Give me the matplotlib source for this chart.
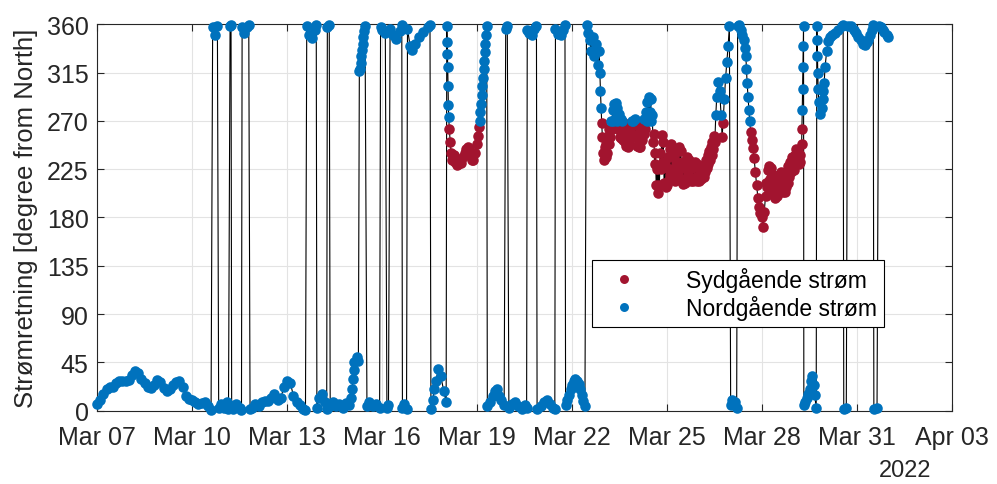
import numpy as np
import pandas as pd
import matplotlib
matplotlib.use('Agg')
import matplotlib.pyplot as plt
import matplotlib.dates as mdates

plt.rcParams.update({'font.family': ['Liberation Sans', 'DejaVu Sans']})
plt.rcParams.update({'font.size': 18})

# (days after 2022-03-07 00:00, current direction in degree from North)
mar07_10 = [(0.0, 6), (0.1, 10), (0.2, 16), (0.3, 20), (0.4, 22), (0.5, 22), (0.6, 26), (0.7, 28),
            (0.8, 28), (0.9, 28), (1.0, 29), (1.1, 33), (1.2, 37), (1.3, 35), (1.4, 30), (1.5, 26),
            (1.6, 22), (1.7, 21), (1.8, 24), (1.9, 29), (2.0, 27), (2.1, 21), (2.2, 18), (2.3, 20),
            (2.4, 24), (2.5, 27), (2.6, 28), (2.7, 22), (2.8, 14), (2.9, 11), (3.0, 10), (3.1, 8),
            (3.2, 6), (3.3, 7), (3.4, 8), (3.5, 4), (3.6, 1)]

mar10_15 = [(3.65, 357), (3.72, 350), (3.8, 358), (3.84, 3), (3.9, 6), (4.0, 3), (4.1, 8), (4.15, 2),
            (4.2, 358), (4.23, 359), (4.25, 4), (4.3, 2), (4.4, 6), (4.5, 3), (4.56, 1), (4.58, 357),
            (4.65, 352), (4.72, 357), (4.79, 359), (4.83, 2), (4.9, 3), (5.0, 6), (5.1, 4), (5.2, 8),
            (5.3, 9), (5.4, 9), (5.5, 12), (5.6, 16), (5.7, 10), (5.8, 12), (5.9, 22), (6.0, 28),
            (6.1, 26), (6.2, 14), (6.3, 8), (6.4, 5), (6.5, 2), (6.58, 1), (6.62, 358), (6.7, 350),
            (6.78, 347), (6.88, 355), (6.92, 359), (6.94, 3), (7.0, 12), (7.1, 16), (7.2, 8), (7.25, 2),
            (7.27, 357), (7.33, 359), (7.36, 4), (7.45, 8), (7.55, 4), (7.65, 6), (7.75, 3), (7.85, 7),
            (7.95, 5)]

mar15_18 = [(8.02, 12), (8.05, 20), (8.08, 30), (8.1, 38), (8.12, 45), (8.2, 50), (8.25, 46),
            (8.28, 316), (8.3, 318), (8.32, 324), (8.34, 330), (8.36, 336), (8.38, 342), (8.4, 348),
            (8.43, 354), (8.46, 358), (8.52, 4), (8.6, 8), (8.7, 4), (8.8, 6), (8.92, 3), (8.95, 357),
            (9.0, 355), (9.1, 352), (9.15, 3), (9.2, 5), (9.25, 356), (9.35, 350), (9.45, 346),
            (9.55, 354), (9.62, 359), (9.64, 3), (9.7, 6), (9.77, 2), (9.8, 356), (9.88, 340),
            (9.95, 336), (10.05, 342), (10.15, 348), (10.3, 353), (10.45, 357), (10.51, 359), (10.54, 2),
            (10.6, 10), (10.65, 20), (10.7, 28), (10.77, 39), (10.85, 32), (10.95, 18), (11.02, 8),
            (11.04, 358), (11.05, 343), (11.06, 332), (11.07, 320), (11.08, 302), (11.09, 285), (11.1, 274)]

mar18_19 = [(11.12, 262), (11.15, 250), (11.18, 240), (11.22, 234), (11.26, 238), (11.3, 232),
            (11.35, 229), (11.4, 230), (11.45, 234), (11.5, 231), (11.55, 236), (11.6, 240), (11.65, 244),
            (11.7, 246), (11.75, 244), (11.8, 238), (11.85, 234), (11.88, 234), (11.94, 240), (11.98, 248),
            (12.02, 256), (12.06, 264), (12.08, 270), (12.1, 278), (12.12, 286), (12.14, 294), (12.16, 302),
            (12.18, 310), (12.2, 318), (12.22, 326), (12.24, 334), (12.26, 342), (12.28, 350), (12.3, 358)]

mar19_22 = [(12.32, 4), (12.4, 8), (12.5, 14), (12.56, 18), (12.63, 20), (12.7, 14), (12.75, 10),
            (12.85, 5), (12.9, 356), (12.95, 358), (13.0, 3), (13.1, 6), (13.2, 8), (13.3, 4), (13.4, 2),
            (13.5, 5), (13.56, 3), (13.58, 355), (13.65, 352), (13.72, 350), (13.8, 356), (13.87, 358),
            (13.89, 2), (14.0, 4), (14.1, 8), (14.2, 10), (14.3, 6), (14.4, 3), (14.45, 2), (14.47, 356),
            (14.55, 351), (14.65, 350), (14.72, 355), (14.77, 359), (14.79, 5), (14.85, 10), (14.9, 15),
            (14.95, 20), (15.0, 24), (15.05, 28), (15.09, 30), (15.15, 28), (15.2, 25), (15.25, 20),
            (15.3, 15), (15.35, 9), (15.4, 4)]

mar22_26 = [(15.45, 359), (15.5, 352), (15.55, 345), (15.6, 335), (15.65, 348), (15.7, 330), (15.75, 342),
            (15.8, 322), (15.85, 335), (15.87, 315), (15.89, 298), (15.91, 282), (15.93, 268),
            (15.95, 255), (15.975, 240), (16.0, 234), (16.025, 246), (16.05, 236), (16.075, 248),
            (16.1, 240), (16.125, 256), (16.15, 248), (16.175, 262), (16.2, 255), (16.225, 270),
            (16.25, 262), (16.275, 280), (16.3, 270), (16.325, 286), (16.35, 272), (16.375, 287),
            (16.4, 270), (16.425, 282), (16.45, 262), (16.475, 276), (16.5, 255), (16.525, 272),
            (16.55, 254), (16.575, 270), (16.6, 252), (16.625, 268), (16.65, 250), (16.675, 262),
            (16.7, 247), (16.725, 258), (16.75, 246), (16.775, 258), (16.8, 248), (16.825, 262),
            (16.85, 254), (16.875, 270), (16.9, 255), (16.925, 270), (16.95, 256), (16.975, 272),
            (17.0, 255), (17.025, 266), (17.05, 247), (17.075, 258), (17.1, 246), (17.125, 258),
            (17.15, 246), (17.175, 260), (17.2, 252), (17.225, 268), (17.25, 258), (17.275, 272),
            (17.3, 262), (17.325, 278), (17.35, 270), (17.375, 288), (17.4, 275), (17.425, 292),
            (17.45, 278), (17.475, 290), (17.5, 270), (17.525, 275), (17.55, 250), (17.575, 258),
            (17.6, 230), (17.625, 240), (17.65, 210), (17.675, 225), (17.7, 203), (17.725, 228),
            (17.75, 210), (17.775, 240), (17.8, 225), (17.825, 257), (17.85, 232), (17.875, 250),
            (17.9, 212), (17.925, 232), (17.95, 208), (17.975, 226), (18.0, 210), (18.025, 236),
            (18.05, 215), (18.075, 244), (18.1, 220), (18.125, 248), (18.15, 225), (18.175, 244),
            (18.2, 218), (18.225, 236), (18.25, 214), (18.275, 232), (18.3, 218), (18.325, 242),
            (18.35, 222), (18.375, 246), (18.4, 226), (18.425, 242), (18.45, 216), (18.475, 232),
            (18.5, 211), (18.525, 226), (18.55, 212), (18.575, 232), (18.6, 216), (18.625, 236),
            (18.65, 220), (18.675, 234), (18.7, 218), (18.725, 230), (18.75, 214), (18.775, 226),
            (18.8, 214), (18.825, 228), (18.85, 216), (18.875, 232), (18.9, 218), (18.925, 230),
            (18.95, 214), (18.975, 226), (19.0, 214), (19.025, 224), (19.05, 216), (19.075, 226),
            (19.1, 218), (19.125, 228), (19.15, 218), (19.175, 230), (19.2, 222), (19.225, 234),
            (19.25, 226), (19.275, 238), (19.3, 230), (19.325, 242), (19.35, 234), (19.375, 246),
            (19.4, 238), (19.425, 250), (19.45, 244), (19.475, 256), (19.5, 250)]

mar26_29 = [(19.53, 275), (19.56, 292), (19.6, 306), (19.65, 298), (19.7, 275), (19.73, 255), (19.76, 268),
            (19.8, 290), (19.84, 310), (19.88, 325), (19.92, 340), (19.96, 358), (20.0, 5), (20.05, 10),
            (20.1, 6), (20.15, 8), (20.19, 3), (20.22, 358), (20.27, 359), (20.32, 355), (20.37, 350),
            (20.42, 345), (20.45, 338), (20.48, 330), (20.5, 318), (20.52, 305), (20.55, 292), (20.58, 280),
            (20.6, 270), (20.63, 260), (20.66, 252), (20.7, 245), (20.74, 235), (20.78, 222), (20.82, 210),
            (20.86, 198), (20.9, 190), (20.94, 184), (20.98, 180), (21.03, 171), (21.06, 185),
            (21.1, 200), (21.125, 212), (21.15, 208), (21.175, 224), (21.2, 214), (21.225, 228),
            (21.25, 216), (21.275, 226), (21.3, 208), (21.325, 220), (21.35, 202), (21.375, 214),
            (21.4, 198), (21.425, 212), (21.45, 200), (21.475, 214), (21.5, 204), (21.525, 220),
            (21.55, 208), (21.575, 222), (21.6, 208), (21.625, 220), (21.65, 204), (21.675, 216),
            (21.7, 204), (21.725, 218), (21.75, 208), (21.775, 222), (21.8, 212), (21.825, 228),
            (21.85, 218), (21.875, 232), (21.9, 222), (21.925, 236), (21.95, 226), (21.975, 236),
            (22.0, 224), (22.025, 238), (22.05, 232), (22.075, 244), (22.1, 236), (22.125, 242),
            (22.15, 230), (22.175, 238), (22.2, 232), (22.24, 248), (22.25, 262), (22.26, 280),
            (22.27, 300), (22.28, 320), (22.29, 340), (22.3, 358)]

mar29_apr01 = [(22.31, 5), (22.35, 8), (22.4, 12), (22.45, 16), (22.5, 20), (22.55, 28), (22.58, 32),
               (22.62, 24), (22.65, 15), (22.7, 3), (22.72, 358), (22.73, 345), (22.74, 330), (22.75, 315),
               (22.76, 300), (22.78, 288), (22.83, 276), (22.87, 282), (22.9, 290), (22.93, 298), (22.95, 305),
               (22.98, 320), (23.03, 335), (23.08, 344), (23.14, 348), (23.2, 350), (23.3, 352), (23.4, 355),
               (23.5, 358), (23.55, 359), (23.57, 2), (23.65, 3), (23.69, 358), (23.8, 358), (23.88, 355),
               (23.95, 352), (24.03, 348), (24.1, 345), (24.18, 342), (24.25, 341), (24.3, 343), (24.35, 345),
               (24.4, 350), (24.45, 355), (24.5, 359), (24.52, 2), (24.62, 3), (24.67, 358), (24.75, 357),
               (24.8, 355), (24.85, 353), (24.92, 350), (24.98, 348)]

readings = np.array(mar07_10 + mar10_15 + mar15_18 + mar18_19 + mar19_22
                    + mar22_26 + mar26_29 + mar29_apr01, dtype=float)

t0 = pd.Timestamp('2022-03-07')
tt = t0 + pd.to_timedelta(readings[:, 0], unit='D')
dd = readings[:, 1]

# south-going: direction between 90 and 270 degrees
south = (dd > 90) & (dd < 270)
north = ~south

c_red = '#A2142F'
c_blue = '#0072BD'

fig = plt.figure(figsize=(9.97, 4.85), dpi=100)
ax = fig.add_axes([0.0973, 0.151, 0.858, 0.797])

ax.plot(tt, dd, '-', color='k', lw=0.8, zorder=2)
ax.plot(tt[south], dd[south], 'o', color=c_red, ms=7.6, mew=0, zorder=3,
        clip_on=False, label='Sydgående strøm')
ax.plot(tt[north], dd[north], 'o', color=c_blue, ms=7.6, mew=0, zorder=3,
        clip_on=False, label='Nordgående strøm')

ax.set_ylim([0, 360])
ax.set_yticks(np.arange(0, 361, 45))
ax.set_xlim([pd.Timestamp('2022-03-07'), pd.Timestamp('2022-04-03')])
ax.set_xticks(pd.date_range('2022-03-07', '2022-04-03', freq='3D'))
ax.xaxis.set_major_formatter(mdates.DateFormatter('%b %d'))
ax.set_ylabel('Strømretning [degree from North]', color='#262626', fontsize=18.5, labelpad=6)

ax.grid(True, color='#e3e3e3', lw=0.8, zorder=0)
ax.set_axisbelow(True)
ax.tick_params(direction='in', length=5, width=0.8, top=True, right=True,
               colors='#262626')
ax.tick_params(axis='x', pad=10)
ax.tick_params(axis='y', pad=6)
for s in ax.spines.values():
    s.set_color('#262626')
    s.set_linewidth(0.8)

leg = ax.legend(loc='lower left', bbox_to_anchor=(0.579, 0.216), borderaxespad=0,
                fancybox=False, edgecolor='k', framealpha=1, handlelength=2.2,
                handletextpad=1.6, borderpad=0.3, labelspacing=0.15, fontsize=16.5,
                markerscale=0.85)
leg.get_frame().set_linewidth(0.8)

fig.text(905/997, 1 - 471/485, '2022', ha='center', va='center', fontsize=17, color='#262626')

plt.savefig('out.png', dpi=100)
